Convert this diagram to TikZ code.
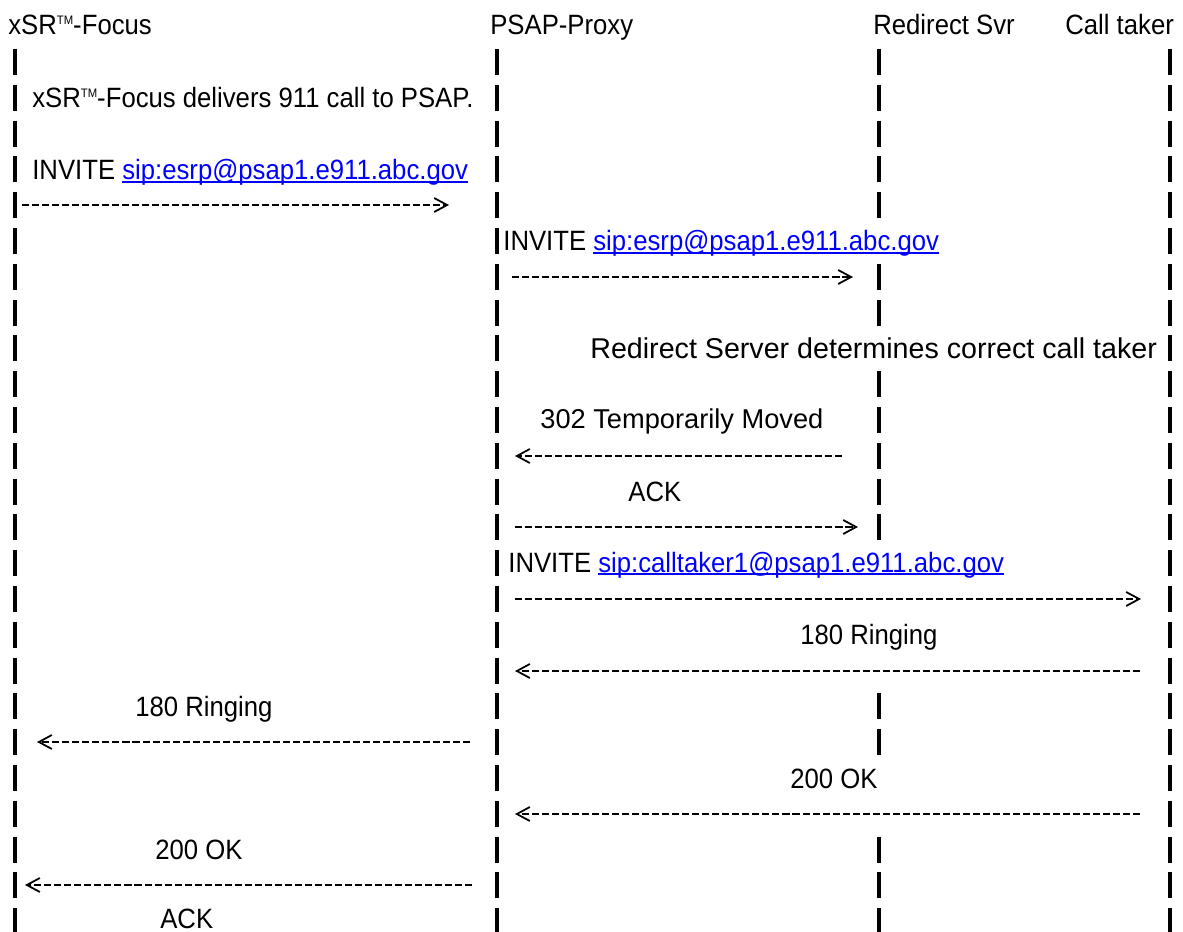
\documentclass[tikz,border=0pt]{standalone}
\usepackage{fontspec}
\setmainfont{Liberation Sans}[FakeStretch=0.92]
\newfontfamily\widesans{Liberation Sans}
\usetikzlibrary{arrows.meta}
\definecolor{linkblue}{RGB}{0,0,255}
% blue underlined SIP address
\newcommand{\siplink}[1]{{\color{linkblue}\setbox0\hbox{#1}\rlap{\rule[-1.9pt]{\wd0}{1.1pt}}\box0}}
% small trade mark
\newcommand{\tmark}{\raisebox{6.1pt}{\fontsize{7}{8}\selectfont TM}}
\tikzset{
  lbl/.style={anchor=base west, inner sep=0pt, font=\fontsize{15.9}{18}\selectfont},
  widelbl/.style={lbl, font=\widesans\fontsize{#1}{18}\selectfont},
  lifebar/.style={line width=2.3pt},
  msg/.style={line width=1.4pt, dash pattern=on 4pt off 1.7pt,
    -{Straight Barb[length=2.6mm,width=2.8mm,line width=1pt]}},
}
\begin{document}
\begin{tikzpicture}[x=0.02cm, y=-0.02cm]
    \useasboundingbox (0,0) rectangle (1183,932);
    % Participants
    \node[lbl] (xsrhd)   at (8,35)    {xSR\tmark-Focus};
    \node[lbl] (psaphd)  at (490,35)  {PSAP-Proxy};
    \node[lbl] (redirhd) at (873,35)  {Redirect Svr};
    \node[lbl] (takerhd) at (1065,35) {Call taker};

    % Lifelines, one bar per row
    \foreach \lx in {15,497,1170} {
        \foreach \r in {1,...,25} {
            \draw[lifebar] (\lx,{62+(\r-1)*35.8-13}) -- ++(0,26);
        }
    }
    % Redirect server line is broken where text crosses it
    \foreach \r in {1,2,3,4,5,7,8,10,11,12,13,14,19,20,23,24,25} {
        \draw[lifebar] (879,{62+(\r-1)*35.8-13}) -- ++(0,26);
    }

    % Focus -> PSAP-Proxy
    \node[lbl] (note1) at (32,108) {xSR\tmark-Focus delivers 911 call to PSAP.};
    \node[lbl] (inv1) at (32,180) {INVITE \siplink{sip:esrp@psap1.e911.abc.gov}};
    \coordinate (m1s) at (22,205);
    \coordinate (m1e) at (449,205);
    \draw[msg] (m1s) -- (m1e);

    % PSAP-Proxy -> Redirect Svr
    \node[lbl] (inv2) at (503,251) {INVITE \siplink{sip:esrp@psap1.e911.abc.gov}};
    \coordinate (m2s) at (512,277);
    \coordinate (m2e) at (853,277);
    \draw[msg] (m2s) -- (m2e);

    \node[widelbl=16.3] (note2) at (590,358) {Redirect Server determines correct call taker};

    \node[widelbl=15.5] (mv302) at (540,428) {302 Temporarily Moved};
    \coordinate (m3s) at (842,456);
    \coordinate (m3e) at (515,456);
    \draw[msg] (m3s) -- (m3e);

    \node[lbl] (ack1) at (628,501) {ACK};
    \coordinate (m4s) at (515,527);
    \coordinate (m4e) at (858,527);
    \draw[msg] (m4s) -- (m4e);

    % PSAP-Proxy -> Call taker
    \node[lbl] (inv3) at (508,572) {INVITE \siplink{sip:calltaker1@psap1.e911.abc.gov}};
    \coordinate (m5s) at (515,599);
    \coordinate (m5e) at (1141,599);
    \draw[msg] (m5s) -- (m5e);

    \node[lbl] (ring1) at (800,644) {180 Ringing};
    \coordinate (m6s) at (1140,671);
    \coordinate (m6e) at (515,671);
    \draw[msg] (m6s) -- (m6e);

    \node[lbl] (ring2) at (135,716) {180 Ringing};
    \coordinate (m7s) at (470,742);
    \coordinate (m7e) at (37,742);
    \draw[msg] (m7s) -- (m7e);

    \node[lbl] (ok1) at (790,788) {200 OK};
    \coordinate (m8s) at (1140,814);
    \coordinate (m8e) at (515,814);
    \draw[msg] (m8s) -- (m8e);

    \node[lbl] (ok2) at (155,859) {200 OK};
    \coordinate (m9s) at (472,885);
    \coordinate (m9e) at (25,885);
    \draw[msg] (m9s) -- (m9e);

    \node[lbl] (ack2) at (160,928) {ACK};
\end{tikzpicture}
\end{document}
